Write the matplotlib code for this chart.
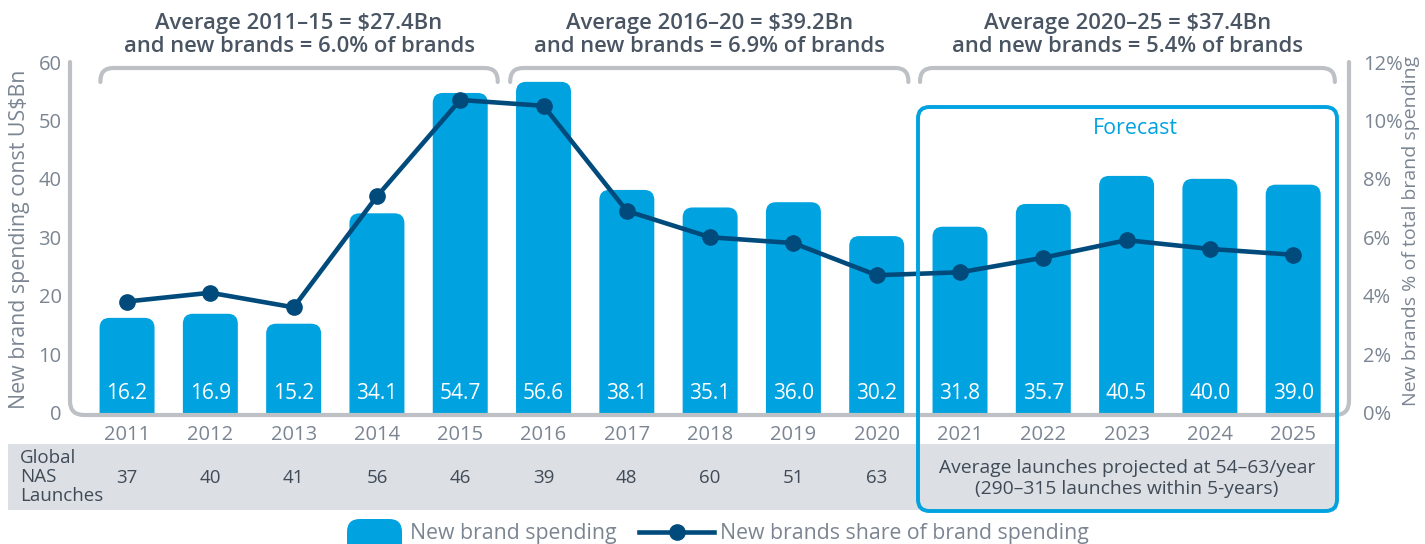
import matplotlib.pyplot as plt
import numpy as np
from matplotlib.patches import FancyBboxPatch, Rectangle
from matplotlib.path import Path
from matplotlib.patches import PathPatch
from matplotlib.lines import Line2D

plt.rcParams['font.family'] = ['Open Sans', 'DejaVu Sans']

# data
years = [str(y) for y in range(2011, 2026)]
spending = [16.2, 16.9, 15.2, 34.1, 54.7, 56.6, 38.1, 35.1, 36.0, 30.2, 31.8, 35.7, 40.5, 40.0, 39.0]
share = [3.8, 4.1, 3.6, 7.4, 10.7, 10.5, 6.9, 6.0, 5.8, 4.7, 4.8, 5.3, 5.9, 5.6, 5.4]
launches = ['37', '40', '41', '56', '46', '39', '48', '60', '51', '63']
bracket_text = ['Average 2011–15 = \\$27.4Bn\nand new brands = 6.0% of brands',
                'Average 2016–20 = \\$39.2Bn\nand new brands = 6.9% of brands',
                'Average 2020–25 = \\$37.4Bn\nand new brands = 5.4% of brands']
forecast_note = 'Average launches projected at 54–63/year\n(290–315 launches within 5-years)'

BLUE = '#00A3E0'
NAVY = '#004B7C'
GRAY_LINE = '#BDC1C6'
TICK = '#7B8592'
DARK = '#4A5563'

W, H = 1425, 544
fig = plt.figure(figsize=(W / 100, H / 100), dpi=100)


def fx(x):
    return x / W


def fy(y):
    return 1 - y / H


ax_left, ax_right, ax_top, ax_bot = 70, 1349, 62, 412.5
ax = fig.add_axes([fx(ax_left), fy(ax_bot), (ax_right - ax_left) / W, (ax_bot - ax_top) / H])
ax.set_xlim(-0.685, 14.67)
ax.set_ylim(0, 60)
for s in ax.spines.values():
    s.set_visible(False)
x = np.arange(len(years))

# rounded bars
px_x = (ax_right - ax_left) / (14.67 + 0.685)
px_y = (ax_bot - ax_top) / 60
r = 0.12
aspect = (r * px_x / px_y) / r
for i, v in enumerate(spending):
    p = FancyBboxPatch((i - 0.33, -3), 0.66, v + 3,
                       boxstyle='round,pad=0,rounding_size=%.3f' % r,
                       mutation_aspect=aspect, fc=BLUE, ec='none', zorder=2)
    ax.add_patch(p)
    ax.text(i, 3.3, '%.1f' % v, ha='center', va='center', color='white', fontsize=15, zorder=3)

ax.set_yticks(range(0, 61, 10))
ax.set_xticks(x)
ax.set_xticklabels(years)
ax.tick_params(axis='both', length=0, colors=TICK, labelsize=14.5)
ax.tick_params(axis='x', pad=9)
ax.tick_params(axis='y', pad=6)

ax2 = ax.twinx()
ax2.set_ylim(0, 12)
for s in ax2.spines.values():
    s.set_visible(False)
ax2.set_yticks(range(0, 13, 2))
ax2.set_yticklabels(['%d%%' % t for t in range(0, 13, 2)])
ax2.tick_params(axis='y', length=0, colors=TICK, labelsize=14.5, pad=10)
ax2.plot(x, share, color=NAVY, lw=3.3, marker='o', ms=11, zorder=4)

fig.text(fx(20), fy(239), 'New brand spending const US$Bn', rotation=90, ha='center', va='center',
         color=TICK, fontsize=15.4)
fig.text(fx(1411), fy(231), 'New brands % of total brand spending', rotation=90, ha='center', va='center',
         color=TICK, fontsize=14)


def rounded_path(pts, rad):
    # polyline with rounded corners, in image pixels
    verts, codes = [pts[0]], [Path.MOVETO]
    for k in range(1, len(pts) - 1):
        p0, p1, p2 = np.array(pts[k - 1]), np.array(pts[k]), np.array(pts[k + 1])
        d1 = (p0 - p1) / np.linalg.norm(p0 - p1)
        d2 = (p2 - p1) / np.linalg.norm(p2 - p1)
        a = p1 + d1 * rad
        b = p1 + d2 * rad
        verts += [tuple(a), tuple(p1), tuple(b)]
        codes += [Path.LINETO, Path.CURVE3, Path.CURVE3]
    verts.append(pts[-1])
    codes.append(Path.LINETO)
    verts = [(fx(vx), fy(vy)) for vx, vy in verts]
    return Path(verts, codes)


def add_rounded_line(pts, rad, color, lw):
    fig.patches.append(PathPatch(rounded_path(pts, rad), fc='none', ec=color, lw=lw,
                                 transform=fig.transFigure, capstyle='round', zorder=5))


# frame around plot
add_rounded_line([(70, 62), (70, 415), (1349, 415), (1349, 62)], 14, GRAY_LINE, 3)


def data_px(xd):
    return ax.transData.transform((xd, 0))[0]


# brackets
spans = [(-0.32, 4.45), (4.6, 9.38), (9.52, 14.5)]
for (a, b), t in zip(spans, bracket_text):
    xa, xb = data_px(a), data_px(b)
    add_rounded_line([(xa, 82), (xa, 68), (xb, 68), (xb, 82)], 13, GRAY_LINE, 3)
    fig.text(fx((xa + xb) / 2), fy(35), t, ha='center', va='center', color=DARK, fontsize=15.8,
             fontweight='semibold', linespacing=1.08)

# table band
fig.patches.append(Rectangle((fx(8), fy(510)), fx(1337) - fx(8), fy(444) - fy(510), fc='#DCDFE3',
                             ec='none', transform=fig.transFigure, zorder=0))
fig.text(fx(20), fy(477), 'Global\nNAS\nLaunches', ha='left', va='center', color='#404B57',
         fontsize=13.5, linespacing=1.05)
for i, n in enumerate(launches):
    fig.text(fx(data_px(i)), fy(478), n, ha='center', va='center', color='#404B57', fontsize=13.5)
fig.text(fx(1127), fy(478.5), forecast_note, ha='center', va='center', color='#404B57', fontsize=13.9,
         linespacing=1.25)

# forecast box
fig.patches.append(FancyBboxPatch((fx(918), fy(511)), fx(1337) - fx(918), fy(107) - fy(511),
                                  boxstyle='round,pad=0,rounding_size=0.008', mutation_aspect=W / H,
                                  fc='none', ec=BLUE, lw=2.8, transform=fig.transFigure, zorder=6))
fig.text(fx(1135), fy(128), 'Forecast', ha='center', va='center', color=BLUE, fontsize=15.4)

# legend
fig.patches.append(FancyBboxPatch((fx(347), fy(560)), fx(402) - fx(347), fy(519) - fy(560),
                                  boxstyle='round,pad=0,rounding_size=0.009', mutation_aspect=W / H,
                                  fc=BLUE, ec='none', transform=fig.transFigure))
fig.text(fx(410), fy(533), 'New brand spending', ha='left', va='center', color=TICK, fontsize=15.3)
fig.lines.append(Line2D([fx(639), fx(714)], [fy(532), fy(532)], color=NAVY, lw=3.3,
                        transform=fig.transFigure))
fig.lines.append(Line2D([fx(677)], [fy(532)], color=NAVY, marker='o', ms=11, transform=fig.transFigure))
fig.text(fx(720), fy(533), 'New brands share of brand spending', ha='left', va='center', color=TICK,
         fontsize=15.3)

fig.savefig('out.png', dpi=100)
